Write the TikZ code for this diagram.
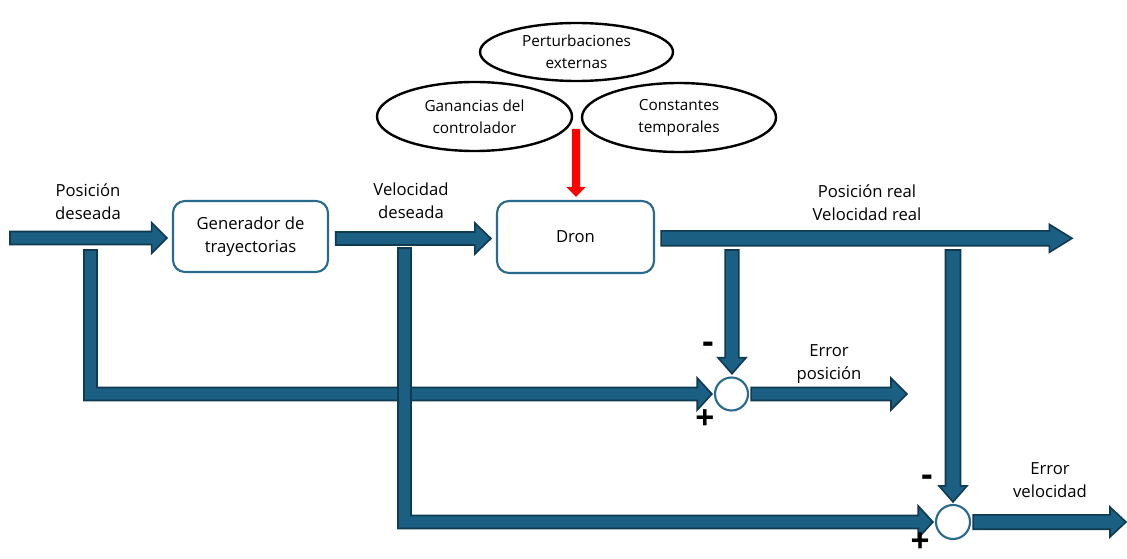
\documentclass[tikz,border=0pt]{standalone}
\usepackage{fontspec}
\setmainfont{Open Sans}
\usetikzlibrary{calc,shapes.geometric}
\definecolor{bfill}{HTML}{1B5F82}
\definecolor{bline}{HTML}{0F3A50}
\definecolor{boxline}{HTML}{2A6A8C}
\definecolor{redarr}{HTML}{FF0000}
% horizontal block arrow: style, start, tip, half shaft, half head, head length
\newcommand\hblock[6]{%
  \draw[#1] let \p1=(#2), \p2=(#3) in
    (\x1,\y1+#4) -- (\x2-#6,\y1+#4) -- (\x2-#6,\y1+#5) -- (\x2,\y1)
    -- (\x2-#6,\y1-#5) -- (\x2-#6,\y1-#4) -- (\x1,\y1-#4) -- cycle;}
% vertical (downward) block arrow
\newcommand\vblock[6]{%
  \draw[#1] let \p1=(#2), \p2=(#3) in
    (\x1-#4,\y1) -- (\x1-#4,\y2+#6) -- (\x1-#5,\y2+#6) -- (\x1,\y2)
    -- (\x1+#5,\y2+#6) -- (\x1+#4,\y2+#6) -- (\x1+#4,\y1) -- cycle;}
% L-shaped block arrow: down from start, then right to tip
\newcommand\lblock[6]{%
  \draw[#1] let \p1=(#2), \p2=(#3) in
    (\x1-#4,\y1) -- (\x1-#4,\y2-#4) -- (\x2-#6,\y2-#4) -- (\x2-#6,\y2-#5)
    -- (\x2,\y2) -- (\x2-#6,\y2+#5) -- (\x2-#6,\y2+#4) -- (\x1+#4,\y2+#4)
    -- (\x1+#4,\y1) -- cycle;}
\tikzset{
  blockarr/.style={fill=bfill, draw=bline, line width=1.2pt, line join=miter},
  redblock/.style={fill=redarr, draw=none},
  procbox/.style={draw=boxline, line width=1.6pt, rounded corners=9pt, fill=white,
    align=center, inner sep=0pt, font=\fontsize{12.5}{17.25}\selectfont},
  param/.style={ellipse, draw=black, line width=1.8pt, inner sep=0pt, align=center,
    font=\fontsize{11.5}{16.5}\selectfont},
  sumnode/.style={circle, draw=boxline, line width=1.6pt, fill=white, inner sep=0pt},
  lbl/.style={align=center, inner sep=0pt, font=\fontsize{12.5}{17.25}\selectfont},
  sign/.style={inner sep=0pt, font=\fontsize{25}{25}\selectfont\bfseries},
  minus/.style={inner sep=0pt, font=\fontsize{26}{26}\selectfont\bfseries}
}
\begin{document}
\begin{tikzpicture}[x=0.75pt,y=-0.75pt]
\useasboundingbox (0,0) rectangle (1127,559);
% process boxes
\node[procbox, minimum width=116.25pt, minimum height=53.25pt] (gen) at (250.5,236.5) {Generador de\\trayectorias};
\node[procbox, minimum width=117.75pt, minimum height=54pt] (dron) at (575.5,237) {Dron};
% parameter ellipses
\node[param, minimum width=144.75pt, minimum height=43.5pt] (pert) at (576.5,52) {Perturbaciones\\externas};
\node[param, minimum width=146.25pt, minimum height=51.75pt] (gan) at (474.5,116.5) {Ganancias del\\controlador};
\node[param, minimum width=145.5pt, minimum height=51.75pt] (cons) at (679,117.5) {Constantes\\temporales};
% summing junctions
\node[sumnode, minimum size=24.75pt] (s1) at (731.5,394) {};
\node[sumnode, minimum size=25.5pt] (s2) at (953,522) {};
% free ends
\coordinate (inp) at (10,238);
\coordinate (redtop) at (576,129);
\coordinate (outend) at (1072,238);
\coordinate (fb1) at (90.5,250);
\coordinate (fb2) at (404.5,248);
\coordinate (dp) at (732,250);
\coordinate (dv) at (953,250);
\coordinate (e1end) at (907,394);
\coordinate (e2end) at (1126,522);
% block arrows
\hblock{blockarr}{inp}{[xshift=-3.75pt]gen.west}{4.9pt}{11.6pt}{11.5pt}
\hblock{blockarr}{[xshift=5pt,yshift=-1.5pt]gen.east}{[xshift=-3.75pt,yshift=-1.5pt]dron.west}{4.9pt}{11.6pt}{12pt}
\hblock{blockarr}{[xshift=4.5pt,yshift=-1pt]dron.east}{outend}{5.6pt}{10.5pt}{17pt}
\vblock{redblock}{redtop}{[yshift=2.25pt]dron.north}{3pt}{7.2pt}{7.5pt}
\vblock{blockarr}{dp}{[yshift=2pt]s1.north}{5.2pt}{10.5pt}{12pt}
\vblock{blockarr}{dv}{[yshift=1.5pt]s2.north}{5.6pt}{10.5pt}{12pt}
\lblock{blockarr}{fb1}{[xshift=-1.5pt]s1.west}{4.9pt}{12pt}{11pt}
\lblock{blockarr}{fb2}{[xshift=-1.5pt]s2.west}{4.9pt}{12pt}{11pt}
\hblock{blockarr}{[xshift=1.5pt]s1.east}{e1end}{4.9pt}{12pt}{12pt}
\hblock{blockarr}{[xshift=1.5pt]s2.east}{e2end}{5.4pt}{11.2pt}{12pt}
% labels
\node[lbl] (lposd) at (88,202) {Posición\\deseada};
\node[lbl] (lveld) at (411,201) {Velocidad\\deseada};
\node[lbl] (lreal) at (867,203) {Posición real\\Velocidad real};
\node[lbl] (lep) at (829,364) {Error\\posición};
\node[lbl] (lev) at (1050,480) {Error\\velocidad};
% signs
\node[minus] (m1) at (708,348) {-};
\node[sign] (p1) at (705,420) {+};
\node[minus] (m2) at (927,481) {-};
\node[sign] (p2) at (920,543) {+};
\end{tikzpicture}
\end{document}
